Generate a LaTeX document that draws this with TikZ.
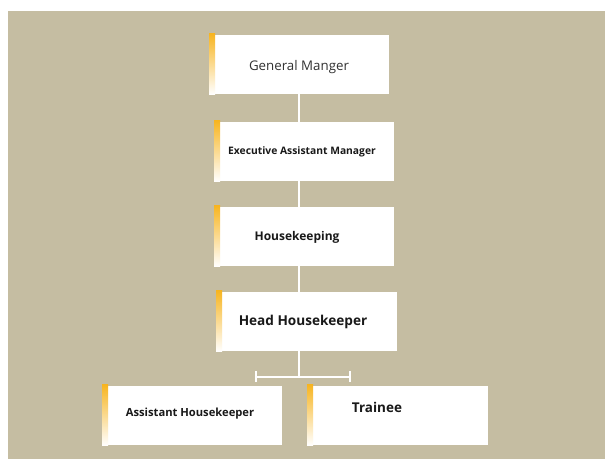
\documentclass[tikz,border=0pt]{standalone}
\usepackage{fontspec}
\setmainfont{Open Sans}
\definecolor{bgbeige}{RGB}{197,189,162}
\definecolor{stripY}{RGB}{247,180,30}
\definecolor{stripM}{RGB}{251,215,120}
\definecolor{txtgray}{RGB}{50,50,50}
\definecolor{txtdark}{RGB}{25,25,25}
\tikzset{
  box/.style={fill=white, draw=none, anchor=north west, inner sep=0pt},
  conn/.style={draw=white, line width=2pt},
  lbl/.style={inner sep=0pt, text=txtdark, font=\bfseries},
}
\newcommand{\stripe}[1]{%
  \shade[top color=stripY, middle color=stripM, bottom color=white]
    ([yshift=2pt]#1.north west) rectangle ([xshift=6pt]#1.south west);}
\begin{document}
\begin{tikzpicture}[x=1pt,y=-1pt]
\fill[white] (0,0) rectangle (605,459);
\fill[bgbeige] (8,11) rectangle (605,459);
\useasboundingbox (0,0) rectangle (605,459);

\node[box, minimum width=180pt, minimum height=59pt] (gm) at (209,35) {};
\node[box, minimum width=180pt, minimum height=59pt] (eam) at (214,122) {};
\node[box, minimum width=180pt, minimum height=59pt] (hk) at (214,207) {};
\node[box, minimum width=181pt, minimum height=59pt] (hh) at (216,292) {};
\node[box, minimum width=180pt, minimum height=59pt] (ah) at (102,386) {};
\node[box, minimum width=181pt, minimum height=59pt] (tr) at (307,386) {};

\foreach \n in {gm,eam,hk,hh,ah,tr} {\stripe{\n}}

\node[lbl, font=\fontsize{13.3}{15}\selectfont, text=txtgray] (tgm) at (299,67) {General Manger};
\node[lbl, font=\fontsize{10.3}{12}\selectfont\bfseries] (team) at (302,152) {Executive Assistant Manager};
\node[lbl, font=\fontsize{12}{14}\selectfont\bfseries] (thk) at (297,237) {Housekeeping};
\node[lbl, font=\fontsize{13.6}{16}\selectfont\bfseries] (thh) at (303,322) {Head Housekeeper};
\node[lbl, font=\fontsize{11.2}{13}\selectfont\bfseries] (tah) at (190,414) {Assistant Housekeeper};
\node[lbl, font=\fontsize{13.5}{15}\selectfont\bfseries] (ttr) at (377,407) {Trainee};

\coordinate (stem) at (299,0);
\coordinate (bar) at (299,376.5);
\coordinate (barL) at (256,376.5);
\coordinate (barR) at (350,376.5);

\draw[conn] (gm.south -| stem) -- (eam.north -| stem);
\draw[conn] (eam.south -| stem) -- (hk.north -| stem);
\draw[conn] (hk.south -| stem) -- (hh.north -| stem);
\draw[conn] (hh.south -| stem) -- (bar);
\draw[conn] (barL) -- (barR);
\draw[conn] ([yshift=-5.5pt]barL) -- ([yshift=5.5pt]barL);
\draw[conn] ([yshift=-5.5pt]barR) -- ([yshift=5.5pt]barR);
\end{tikzpicture}
\end{document}
